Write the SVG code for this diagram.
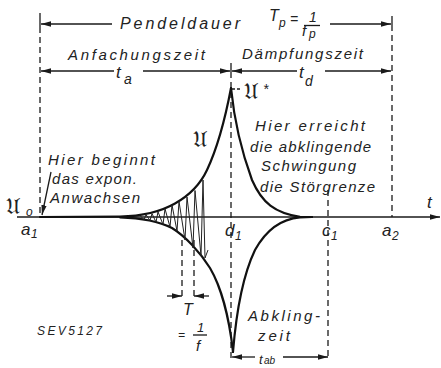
<svg xmlns="http://www.w3.org/2000/svg" width="441" height="368" viewBox="0 0 441 368">
<style>
  .t{font-family:"Liberation Sans","DejaVu Sans",sans-serif;font-style:italic;fill:#222}
  .fr{font-family:"DejaVu Serif","DejaVu Sans","Noto Sans",serif;font-style:normal;fill:#222}
  .ln{stroke:#1a1a1a;stroke-width:1.3;fill:none}
  .ds{stroke:#1a1a1a;stroke-width:1.3;fill:none;stroke-dasharray:6 4}
  .cv{stroke:#111;stroke-width:2.2;fill:none;stroke-linejoin:round;stroke-linecap:round}
  .os{stroke:#222;stroke-width:1;fill:none;stroke-linejoin:miter}
</style>
<defs>
  <marker id="ah" viewBox="0 0 10 6" refX="10" refY="3" markerWidth="10" markerHeight="6" markerUnits="userSpaceOnUse" orient="auto">
    <path d="M0,0.3 L10,3 L0,5.7 z" fill="#1a1a1a"/>
  </marker>
</defs>
<rect width="441" height="368" fill="#fff"/>

<g id="connectors">
  <line class="ln" x1="17" y1="217" x2="440" y2="217" marker-end="url(#ah)"/>
  <line class="ln" x1="40" y1="13" x2="40" y2="33"/>
  <line class="ds" x1="40" y1="37" x2="40" y2="217"/>
  <line class="ln" x1="392" y1="16" x2="392" y2="31"/>
  <line class="ds" x1="392" y1="35" x2="392" y2="217"/>
  <line class="ln" x1="231" y1="63" x2="231" y2="78"/>
  <line class="ds" x1="231" y1="82" x2="231" y2="360"/>
  <line class="ds" x1="328" y1="190" x2="328" y2="360"/>
  <line class="ln" x1="112" y1="24" x2="41" y2="24" marker-end="url(#ah)"/>
  <line class="ln" x1="330" y1="24" x2="391" y2="24" marker-end="url(#ah)"/>
  <line class="ln" x1="114" y1="71" x2="41" y2="71" marker-end="url(#ah)"/>
  <line class="ln" x1="143" y1="71" x2="230" y2="71" marker-end="url(#ah)"/>
  <line class="ln" x1="297" y1="71" x2="232" y2="71" marker-end="url(#ah)"/>
  <line class="ln" x1="325" y1="71" x2="391" y2="71" marker-end="url(#ah)"/>
  <line class="ds" x1="182" y1="240" x2="182" y2="296"/>
  <line class="ds" x1="194" y1="240" x2="194" y2="296"/>
  <line class="ln" x1="167" y1="296" x2="182" y2="296" marker-end="url(#ah)"/>
  <line class="ln" x1="209" y1="296" x2="194" y2="296" marker-end="url(#ah)"/>
  <line class="ln" x1="255" y1="357" x2="232" y2="357" marker-end="url(#ah)"/>
  <line class="ln" x1="283" y1="357" x2="328" y2="357" marker-end="url(#ah)"/>
  <line class="ln" x1="51" y1="172" x2="42" y2="215" marker-end="url(#ah)"/>
  <line class="ln" x1="232" y1="89" x2="241" y2="89" stroke-dasharray="3 2"/>
</g>

<g id="curves">
  <path class="cv" d="M40,217 L120,216.6 C140,216.2 160,212 175,203.5 C190,195 200,185 207,170 C215,153 224,125 231,88"/>
  <path class="cv" d="M120,217.4 C140,218 160,222 172,228 C185,236 200,252 210,268 C220,285 229,315 233,352"/>
  <path class="cv" d="M231,88 C234,118 241,150 252,180 C262,203 275,213 300,216.8 L312,217"/>
  <path class="cv" d="M233,352 C236,315 243,275 255,250 C266,230 280,219 300,217.3 L312,217"/>
  <path class="os" d="M140,215.5 L144,219.6 L146,214.7 L150,220.5 L152,213.6 L156,222.2 L158,211.8 L163,224.5 L165,208.8 L170,227 L172,205 L177,231 L179,201.5 L185,240 L187,197 L193,248 L195,190.5 L201,256 L203,180 L205,258 L208,250"/>
</g>

<g id="labels">
  <text class="t" x="120" y="29" font-size="16" textLength="120" lengthAdjust="spacing">Pendeldauer</text>
  <text class="t" x="269" y="21" font-size="16">T</text>
  <text class="t" x="279" y="27" font-size="12">p</text>
  <text class="t" x="290" y="24" font-size="14">=</text>
  <text class="t" x="309" y="22" font-size="14">1</text>
  <line class="ln" x1="304" y1="25.5" x2="320" y2="25.5"/>
  <text class="t" x="302" y="36" font-size="15">f</text>
  <text class="t" x="309" y="38" font-size="12">p</text>

  <text class="t" x="68" y="60" font-size="15" textLength="137" lengthAdjust="spacing">Anfachungszeit</text>
  <text class="t" x="242" y="59" font-size="15" textLength="121" lengthAdjust="spacing">Dämpfungszeit</text>
  <text class="t" x="116" y="78" font-size="17">t</text>
  <text class="t" x="124" y="84" font-size="14">a</text>
  <text class="t" x="299" y="78" font-size="17">t</text>
  <text class="t" x="305" y="86" font-size="14">d</text>

  <text class="fr" x="244" y="99" font-size="22">𝔘</text>
  <text class="t" x="263" y="94" font-size="14">*</text>
  <text class="fr" x="193" y="147" font-size="22">𝔘</text>
  <text class="fr" x="6" y="214" font-size="22">𝔘</text>
  <text class="t" x="26" y="216" font-size="12">o</text>

  <text class="t" x="48" y="165" font-size="15" textLength="107" lengthAdjust="spacing">Hier beginnt</text>
  <text class="t" x="52" y="184" font-size="15" textLength="85" lengthAdjust="spacing">das expon.</text>
  <text class="t" x="50" y="203" font-size="15" textLength="90" lengthAdjust="spacing">Anwachsen</text>

  <text class="t" x="255" y="131" font-size="15" textLength="110" lengthAdjust="spacing">Hier erreicht</text>
  <text class="t" x="250" y="152" font-size="15" textLength="121" lengthAdjust="spacing">die abklingende</text>
  <text class="t" x="261" y="171" font-size="15" textLength="95" lengthAdjust="spacing">Schwingung</text>
  <text class="t" x="260" y="192" font-size="15" textLength="115" lengthAdjust="spacing">die Störgrenze</text>

  <text class="t" x="21" y="235" font-size="17">a</text>
  <text class="t" x="31" y="238" font-size="12">1</text>
  <text class="t" x="225" y="236" font-size="17">d</text>
  <text class="t" x="235" y="240" font-size="12">1</text>
  <text class="t" x="322" y="236" font-size="17">c</text>
  <text class="t" x="331" y="240" font-size="12">1</text>
  <text class="t" x="382" y="236" font-size="17">a</text>
  <text class="t" x="392" y="240" font-size="12">2</text>
  <text class="t" x="427" y="208" font-size="17">t</text>

  <text class="t" x="183" y="315" font-size="16">T</text>
  <text class="t" x="178" y="339" font-size="12">=</text>
  <text class="t" x="197" y="332" font-size="13">1</text>
  <line class="ln" x1="193" y1="335" x2="207" y2="335"/>
  <text class="t" x="196" y="351" font-size="15">f</text>

  <text class="t" x="37" y="335" font-size="12" textLength="65" lengthAdjust="spacing">SEV5127</text>

  <text class="t" x="248" y="321" font-size="15" textLength="72" lengthAdjust="spacing">Abkling-</text>
  <text class="t" x="258" y="341" font-size="15" textLength="32" lengthAdjust="spacing">zeit</text>
  <text class="t" x="259" y="364" font-size="13">t</text>
  <text class="t" x="264" y="364" font-size="10">ab</text>
</g>
</svg>
